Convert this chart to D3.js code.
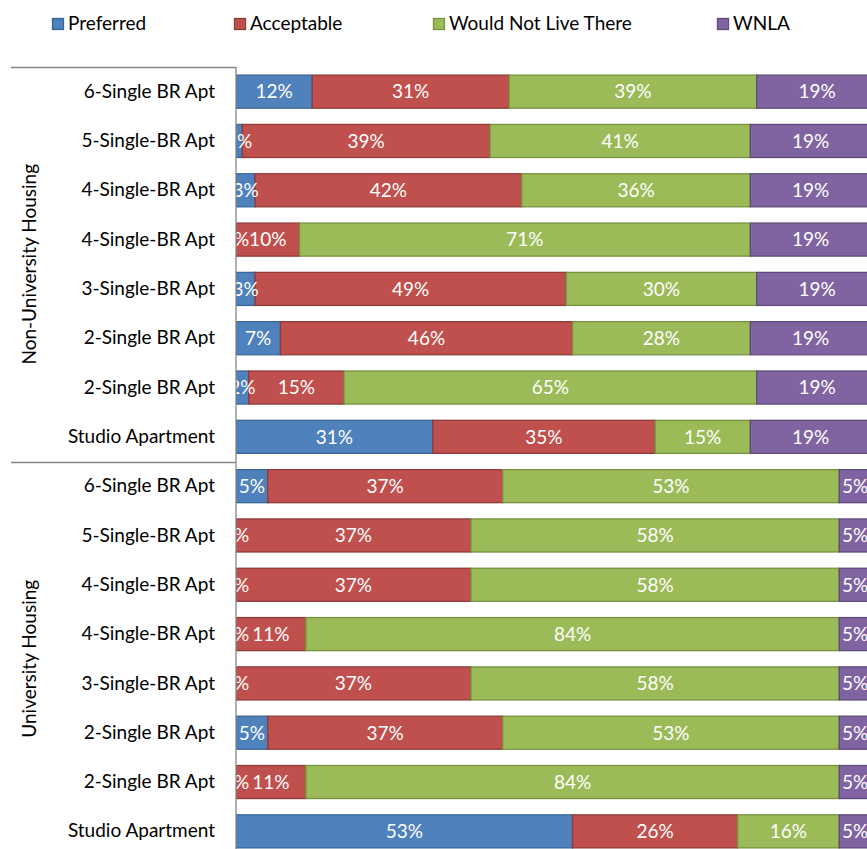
<!DOCTYPE html>
<html>
<head>
<meta charset="utf-8">
<script src="https://cdn.jsdelivr.net/npm/d3@7"></script>
<style>
  html, body { margin: 0; padding: 0; background: #fff; overflow: hidden; }
  svg { display: block; }
  text { font-family: Lato, "Open Sans", sans-serif; }
</style>
</head>
<body>
<svg id="chart" width="867" height="849"></svg>
<script>
// Housing preference survey: share of responses per unit type (top to bottom)
const groups = ["Non-University Housing", "University Housing"];
const categories = [
  "6-Single BR Apt", "5-Single-BR Apt", "4-Single-BR Apt", "4-Single-BR Apt",
  "3-Single-BR Apt", "2-Single BR Apt", "2-Single BR Apt", "Studio Apartment",
  "6-Single BR Apt", "5-Single-BR Apt", "4-Single-BR Apt", "4-Single-BR Apt",
  "3-Single-BR Apt", "2-Single BR Apt", "2-Single BR Apt", "Studio Apartment"
];
const categoryGroup = [0,0,0,0,0,0,0,0, 1,1,1,1,1,1,1,1];

const seriesNames = ["Preferred", "Acceptable", "Would Not Live There", "WNLA"];
const preferred   = [12, 1, 3, 0, 3, 7, 2, 31,   5, 0, 0, 0, 0, 5, 0, 53];
const acceptable  = [31, 39, 42, 10, 49, 46, 15, 35,   37, 37, 37, 11, 37, 37, 11, 26];
const wouldNot    = [39, 41, 36, 71, 30, 28, 65, 15,   53, 58, 58, 84, 58, 53, 84, 16];
const wnla        = [19, 19, 19, 19, 19, 19, 19, 19,   5, 5, 5, 5, 5, 5, 5, 5];

const fills   = ["#4F81BD", "#C0504D", "#9BBB59", "#8064A2"];
const strokes = ["#3A6597", "#8E3B39", "#76923F", "#5E4A7B"];

const FONT_SIZE = 19;

const rows = categories.map((c, i) => ({
  key: i, label: c, group: categoryGroup[i],
  "Preferred": preferred[i], "Acceptable": acceptable[i],
  "Would Not Live There": wouldNot[i], "WNLA": wnla[i]
}));

const svg = d3.select("#chart");
const plot = { left: 236, right: 871, top: 67, bottom: 856 };

const x = d3.scaleLinear().domain([0, 100]).range([plot.left, plot.right]);
const y = d3.scaleBand().domain(rows.map(r => r.key))
  .range([plot.top, plot.bottom]).paddingInner(0.33).paddingOuter(0.165);

const stacked = d3.stack().keys(seriesNames)(rows);

svg.append("defs").append("clipPath").attr("id", "plotClip")
  .append("rect").attr("x", plot.left).attr("y", plot.top)
  .attr("width", plot.right - plot.left + 20).attr("height", plot.bottom - plot.top);

const gPlot = svg.append("g").attr("clip-path", "url(#plotClip)");

const layers = gPlot.selectAll("g.layer").data(stacked).join("g")
  .attr("class", "layer")
  .attr("fill", (d, i) => fills[i])
  .attr("stroke", (d, i) => strokes[i]);

layers.selectAll("rect").data(d => d.filter(s => s[1] - s[0] > 0)).join("rect")
  .attr("x", d => x(d[0]))
  .attr("y", d => y(d.data.key))
  .attr("width", d => x(d[1]) - x(d[0]))
  .attr("height", y.bandwidth())
  .attr("stroke-width", 1.3);

// value labels, centred in each segment
const labels = gPlot.append("g");
stacked.forEach(layer => {
  labels.selectAll(null).data(layer).join("text")
    .attr("x", d => (x(d[0]) + x(d[1])) / 2)
    .attr("y", d => y(d.data.key) + y.bandwidth() / 2)
    .attr("dy", "0.36em")
    .attr("text-anchor", "middle")
    .attr("fill", "#fff")
    .attr("font-size", FONT_SIZE)
    .text(d => d3.format(".0f")(d[1] - d[0]) + "%");
});

// category axis
const yAxis = d3.axisLeft(y).tickSize(0).tickPadding(21)
  .tickFormat(k => rows[k].label);
const gAxis = svg.append("g").attr("transform", `translate(${plot.left},0)`).call(yAxis);
gAxis.select(".domain").remove();
gAxis.selectAll("text").attr("font-size", FONT_SIZE).attr("fill", "#000")
  .style("font-family", "Lato, 'Open Sans', sans-serif");

svg.append("line").attr("x1", plot.left).attr("x2", plot.left)
  .attr("y1", plot.top).attr("y2", plot.bottom)
  .attr("stroke", "#868686").attr("stroke-width", 1.3);

// group separators and group labels
const groupInfo = groups.map((g, gi) => {
  const keys = rows.filter(r => r.group === gi).map(r => r.key);
  const top = y(keys[0]) - y.step() * y.paddingInner() / 2;
  const bottom = y(keys[keys.length - 1]) + y.bandwidth() + y.step() * y.paddingInner() / 2;
  return { name: g, top, bottom };
});

svg.selectAll("line.sep").data(groupInfo).join("line")
  .attr("class", "sep")
  .attr("x1", 11).attr("x2", plot.left)
  .attr("y1", d => Math.round(d.top) + 0.5).attr("y2", d => Math.round(d.top) + 0.5)
  .attr("stroke", "#868686").attr("stroke-width", 1.3);

svg.selectAll("text.group").data(groupInfo).join("text")
  .attr("class", "group")
  .attr("transform", d => `translate(36,${(d.top + d.bottom) / 2}) rotate(-90)`)
  .attr("text-anchor", "middle")
  .attr("font-size", FONT_SIZE)
  .attr("fill", "#000")
  .text(d => d.name);

// legend
const legendX = [52, 234, 433, 717];
const legend = svg.append("g");
seriesNames.forEach((s, i) => {
  legend.append("rect").attr("x", legendX[i] + 0.5).attr("y", 18.5)
    .attr("width", 11).attr("height", 11)
    .attr("fill", fills[i]).attr("stroke", strokes[i]).attr("stroke-width", 1.3);
  legend.append("text").attr("x", legendX[i] + 16).attr("y", 30)
    .attr("font-size", FONT_SIZE).attr("fill", "#000").text(s);
});
</script>
</body>
</html>
